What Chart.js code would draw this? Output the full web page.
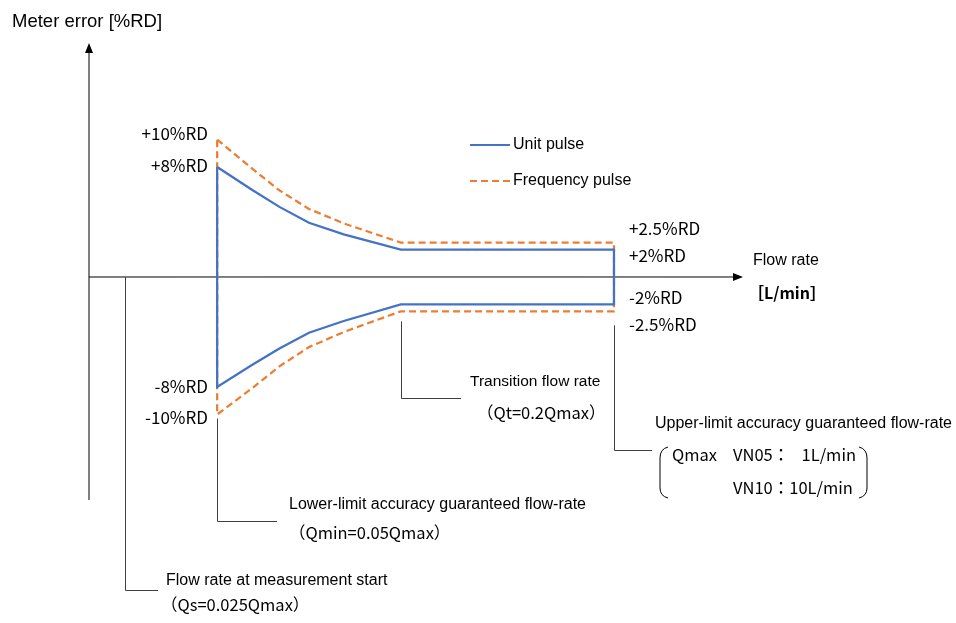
<!DOCTYPE html>
<html>
<head>
<meta charset="utf-8">
<script src="https://cdn.jsdelivr.net/npm/chart.js@4/dist/chart.umd.min.js"></script>
<style>
  body { margin: 0; background: #fff; }
</style>
</head>
<body>
<canvas id="errChart" width="956" height="623"></canvas>
<script>
// flow rate as a fraction of Qmax (schematic, log spaced)
const flowQ = [0.05, 0.065, 0.08, 0.1, 0.13, 0.2, 1];
const unitUpper = [8, 6.35, 5.1, 3.95, 3.1, 2, 2];
const unitLower = [-8, -6.4, -5.2, -4.05, -3.2, -2, -2];
const freqUpper = [10, 7.9, 6.3, 4.95, 3.9, 2.5, 2.5];
const freqLower = [-10, -8.1, -6.5, -5.1, -4.0, -2.5, -2.5];
const seriesNames = ["Unit pulse", "Frequency pulse"];

const Qs = 0.025, Qmin = 0.05, Qt = 0.2, Qmax = 1;
const leftBoundLabels = ["+10%RD", "+8%RD", "-8%RD", "-10%RD"];
const rightBoundLabels = ["+2.5%RD", "+2%RD", "-2%RD", "-2.5%RD"];

// closed envelope: up at Qmin, along the top, down at Qmax, back along the bottom
function envelope(upper, lower) {
  let pts = [];
  for (let i = 0; i < flowQ.length; i++) pts.push({x: flowQ[i], y: upper[i]});
  for (let i = flowQ.length - 1; i >= 0; i--) pts.push({x: flowQ[i], y: lower[i]});
  pts.push({x: flowQ[0], y: upper[0]});
  return pts;
}

const blue = "#4472C4";
const orange = "#ED7D31";
const en = "Liberation Sans, Arial, sans-serif";
const jp = "'Noto Sans CJK JP', sans-serif";

function txt(ctx, s, x, y, font, align) {
  ctx.font = font;
  ctx.textAlign = align || "left";
  ctx.textBaseline = "middle";
  ctx.fillStyle = "#000";
  ctx.fillText(s, x, y);
}

const diagram = {
  id: 'diagram',
  beforeDatasetsDraw(chart) {
    const ctx = chart.ctx;
    const xs = chart.scales.x, ys = chart.scales.y;
    const y0 = ys.getPixelForValue(0);
    const x0 = xs.left;
    ctx.save();
    ctx.strokeStyle = "#000";
    ctx.fillStyle = "#000";
    ctx.lineWidth = 1;
    // y axis
    ctx.beginPath();
    ctx.moveTo(x0, ys.bottom);
    ctx.lineTo(x0, ys.top + 8);
    ctx.stroke();
    ctx.beginPath();
    ctx.moveTo(x0, ys.top);
    ctx.lineTo(x0 - 4, ys.top + 10);
    ctx.lineTo(x0 + 4, ys.top + 10);
    ctx.closePath();
    ctx.fill();
    // x axis
    ctx.beginPath();
    ctx.moveTo(x0, y0);
    ctx.lineTo(xs.right - 10, y0);
    ctx.stroke();
    ctx.beginPath();
    ctx.moveTo(xs.right - 2, y0);
    ctx.lineTo(xs.right - 12, y0 - 4);
    ctx.lineTo(xs.right - 12, y0 + 4);
    ctx.closePath();
    ctx.fill();

    // callout lines
    ctx.strokeStyle = "#404040";
    const callouts = [
      [Qs, y0, 590, 158],
      [Qmin, ys.getPixelForValue(-10) + 4, 521, 277],
      [Qt, ys.getPixelForValue(-2.5) + 10, 398, 461],
      [Qmax, ys.getPixelForValue(-2.5) + 14, 450, 652]
    ];
    callouts.forEach(c => {
      const x = Math.round(xs.getPixelForValue(c[0])) + 0.5;
      ctx.beginPath();
      ctx.moveTo(x, c[1]);
      ctx.lineTo(x, c[2] + 0.5);
      ctx.lineTo(c[3], c[2] + 0.5);
      ctx.stroke();
    });
    ctx.restore();
  },
  afterDatasetsDraw(chart) {
    const ctx = chart.ctx;
    ctx.save();
    // axis titles
    txt(ctx, "Meter error [%RD]", 12, 22, "18.5px " + en);
    txt(ctx, "Flow rate", 753, 261, "16px " + en);
    txt(ctx, "［L/min］", 748, 293, "bold 16px " + jp);

    // bound labels
    const ly = [134, 166, 387, 418];
    leftBoundLabels.forEach((s, i) => txt(ctx, s, 208, ly[i], "17px " + jp, "right"));
    const ry = [229, 256, 298, 325];
    rightBoundLabels.forEach((s, i) => txt(ctx, s, 629, ry[i], "17px " + jp));

    // legend
    chart.data.datasets.forEach((ds, i) => {
      const y = 145 + i * 36;
      ctx.strokeStyle = ds.borderColor;
      ctx.lineWidth = 2;
      ctx.setLineDash(ds.borderDash || []);
      ctx.beginPath();
      ctx.moveTo(470, y);
      ctx.lineTo(510, y);
      ctx.stroke();
      ctx.setLineDash([]);
      txt(ctx, ds.label, 513, y, "16px " + en);
    });

    // callout texts
    txt(ctx, "Flow rate at measurement start", 166, 581, "16px " + en);
    txt(ctx, "（Qs=0.025Qmax）", 161, 605, "16.5px " + jp);
    txt(ctx, "Lower-limit accuracy guaranteed flow-rate", 289, 505, "16px " + en);
    txt(ctx, "（Qmin=0.05Qmax）", 289, 533, "16.5px " + jp);
    txt(ctx, "Transition flow rate", 470, 382, "15.5px " + en);
    txt(ctx, "（Qt=0.2Qmax）", 477, 413, "16.5px " + jp);
    txt(ctx, "Upper-limit accuracy guaranteed flow-rate", 655, 424, "16px " + en);
    txt(ctx, "Qmax", 672, 455, "16.5px " + jp);
    txt(ctx, "VN05：", 733, 455, "16.5px " + jp);
    txt(ctx, "1L/min", 856, 455, "16.5px " + jp, "right");
    txt(ctx, "VN10：10L/min", 733, 488, "16.5px " + jp);

    // brackets around the Qmax block
    ctx.strokeStyle = "#000";
    ctx.lineWidth = 1;
    ctx.beginPath();
    ctx.moveTo(668, 447);
    ctx.quadraticCurveTo(660, 449, 660, 458);
    ctx.lineTo(660, 488);
    ctx.quadraticCurveTo(660, 496, 668, 498);
    ctx.stroke();
    ctx.beginPath();
    ctx.moveTo(859, 447);
    ctx.quadraticCurveTo(867, 449, 867, 458);
    ctx.lineTo(867, 488);
    ctx.quadraticCurveTo(867, 496, 859, 498);
    ctx.stroke();
    ctx.restore();
  }
};

new Chart(document.getElementById('errChart').getContext('2d'), {
  type: 'line',
  data: {
    datasets: [{
      label: seriesNames[0],
      data: envelope(unitUpper, unitLower),
      borderColor: blue,
      borderWidth: 2.25,
      pointRadius: 0,
      tension: 0
    }, {
      label: seriesNames[1],
      data: envelope(freqUpper, freqLower),
      borderColor: orange,
      borderWidth: 2.25,
      borderDash: [7, 4],
      pointRadius: 0,
      tension: 0
    }]
  },
  options: {
    responsive: false,
    animation: false,
    layout: { padding: { left: 89, right: 211, top: 43, bottom: 123 } },
    plugins: { legend: { display: false }, tooltip: { enabled: false } },
    scales: {
      x: { type: 'logarithmic', min: 0.019, max: 2.689, display: false },
      y: { type: 'linear', min: -16.22, max: 17.02, display: false }
    }
  },
  plugins: [diagram]
});
</script>
</body>
</html>
